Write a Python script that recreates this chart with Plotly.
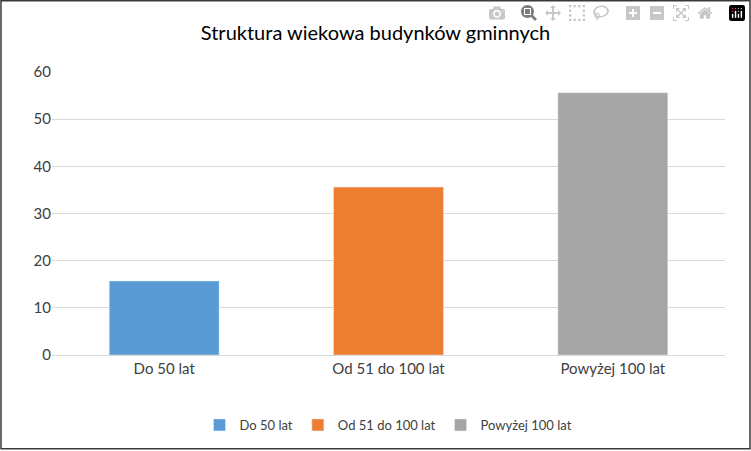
import plotly.graph_objects as go

categories = ["Do 50 lat", "Od 51 do 100 lat", "Powyżej 100 lat"]
values = [15.7, 35.6, 55.6]
colors = ["#5b9bd5", "#ed7d31", "#a5a5a5"]

W, H = 751, 451
L, R, T, B = 52, 26, 72, 95
pw, ph = W - L - R, H - T - B

fig = go.Figure()
for cat, val, col in zip(categories, values, colors):
    fig.add_trace(go.Bar(x=[cat], y=[val], name=cat, marker_color=col, width=0.49))

fig.update_layout(
    width=W, height=H,
    margin=dict(l=L, r=R, t=T, b=B),
    barmode="overlay",
    paper_bgcolor="white", plot_bgcolor="white",
    font=dict(family="Lato, Open Sans, sans-serif", size=14, color="#404040"),
    title=dict(text="Struktura wiekowa budynków gminnych", x=0.5, y=1 - 33 / H,
               xanchor="center", yanchor="middle", font=dict(size=20, color="#000000")),
    legend=dict(orientation="h", x=0.5, xanchor="center", y=-0.19, yanchor="top",
                font=dict(size=13, color="#404040"), itemwidth=30),
    xaxis=dict(showgrid=False, showline=True, linecolor="#d9d9d9",
               ticks="outside", ticklen=0, tickfont=dict(size=15)),
    yaxis=dict(range=[0, 60], dtick=10, gridcolor="#d9d9d9", zeroline=False,
               tickfont=dict(size=15)),
    shapes=[dict(type="rect", xref="paper", yref="paper",
                 x0=-(L - 1) / pw, x1=(W - 1 - L) / pw,
                 y0=-(B - 1) / ph, y1=(T + ph - 0.5) / ph,
                 line=dict(color="#3a3a3a", width=1.5))],
)

fig.write_html("out.html", post_script="document.body.style.margin='0';")
